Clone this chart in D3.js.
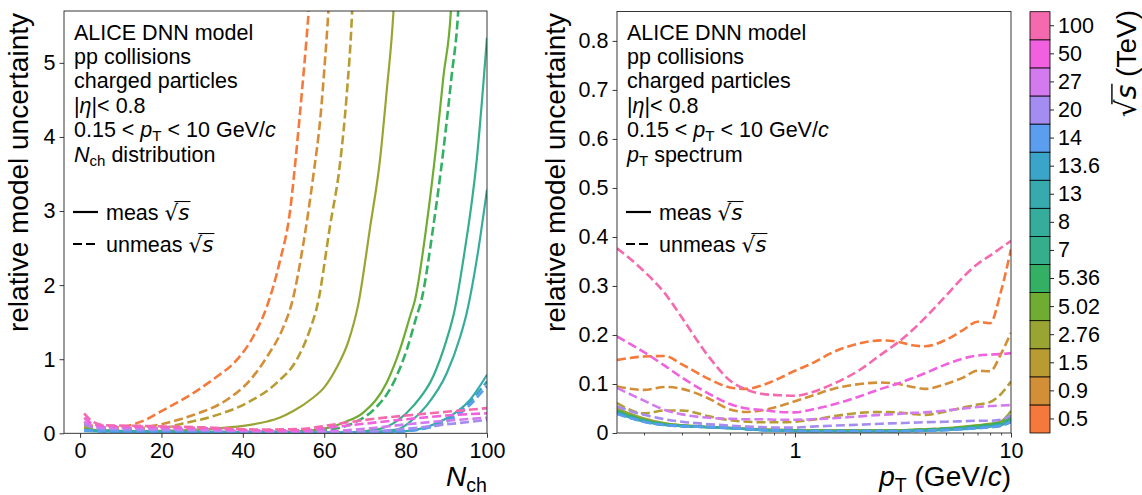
<!DOCTYPE html>
<html><head><meta charset="utf-8">
<script src="https://cdn.jsdelivr.net/npm/d3@7"></script>
<style>
body{margin:0;background:#fff;}
svg{display:block;font-family:"Liberation Sans",Arial,sans-serif;}
</style></head><body>
<svg id="chart" width="1142" height="495"></svg>
<script>
// ---------------- data ----------------
const energies = ["0.5","0.9","1.5","2.76","5.02","5.36","7","8","13","13.6","14","20","27","50","100"];
const measured = [false,false,false,true,true,false,true,true,true,false,false,false,false,false,false];
const palette = ["#f5793a","#d38f38","#b89c33","#9aa433","#6fac31","#33b064","#35ae8b","#36ac9c","#37aaad","#3aa5c8","#5b9ef0","#a58cf0","#d37aef","#f060df","#f56aae"];

const leftXTicks = [0,20,40,60,80,100];
const leftYTicks = [0,1,2,3,4,5];
const rightXTicks = [1,10];
const rightYTicks = [0,0.1,0.2,0.3,0.4,0.5,0.6,0.7,0.8];

// Nch distribution: [Nch, relative uncertainty]
const nch_e0p5 = [[1,0.13],[3,0.1],[6,0.08],[10,0.08],[13,0.12],[16,0.18],[20,0.3],[24,0.42],[28,0.55],[33,0.74],[38.5,0.99],[42.6,1.31],[45.9,1.71],[49,2.3],[51.6,3.0],[53.2,3.83],[54.5,4.6],[55.7,5.36],[57,6.3]];
const nch_e0p9 = [[1,0.11],[3,0.09],[6,0.07],[10,0.06],[15,0.07],[18,0.1],[22,0.15],[28,0.25],[36,0.45],[41.8,0.72],[45.9,1.03],[50,1.44],[52,1.75],[54.9,2.57],[57.3,3.47],[59,4.23],[60.2,5.04],[61,5.68],[61.6,6.3]];
const nch_e1p5 = [[1,0.09],[4,0.07],[10,0.06],[15,0.06],[20,0.07],[25,0.13],[32,0.22],[41,0.41],[48.3,0.68],[53.2,0.99],[56.5,1.4],[58.4,1.75],[61.4,2.79],[63.9,3.65],[65.5,4.55],[66.8,5.63],[67.3,6.3]];
const nch_e2p76 = [[1,0.06],[5,0.04],[15,0.03],[25,0.04],[32,0.06],[40,0.1],[46,0.16],[49,0.21],[52.4,0.3],[57,0.47],[60,0.62],[63,0.88],[66,1.25],[68.4,1.75],[71.3,2.79],[73.7,3.69],[75.3,4.59],[77,5.68],[77.6,6.3]];
const nch_e5p02 = [[1,0.05],[10,0.03],[30,0.02],[50,0.02],[57,0.04],[61.4,0.08],[65,0.15],[69.6,0.28],[75.3,0.68],[78.6,1.13],[81.1,1.58],[82.3,1.8],[85.1,2.79],[87.6,3.92],[89.3,4.82],[91.1,5.68],[91.7,6.3]];
const nch_e5p36 = [[1,0.05],[10,0.03],[30,0.02],[50,0.02],[58,0.03],[63.5,0.07],[68,0.16],[72,0.31],[77,0.68],[80.3,1.13],[82.7,1.58],[83.9,1.8],[86.8,2.79],[89.3,3.83],[91.3,4.82],[92.9,5.68],[93.5,6.3]];
const nch_e7 = [[1,0.04],[10,0.03],[30,0.02],[50,0.01],[65,0.01],[73.7,0.06],[78,0.17],[81.9,0.37],[86.8,0.77],[90,1.25],[92,1.65],[94.2,2.35],[97.5,3.7],[100,5.34]];
const nch_e8 = [[1,0.04],[10,0.03],[30,0.02],[50,0.01],[68,0.01],[77.8,0.05],[81,0.15],[85.1,0.37],[90.1,0.81],[93.4,1.3],[95,1.62],[97.5,2.35],[100,3.29]];
const nch_e13 = [[1,0.03],[10,0.02],[40,0.01],[70,0.01],[80,0.03],[85,0.08],[90,0.2],[95.8,0.45],[100,0.79]];
const nch_e13p6 = [[1,0.04],[10,0.02],[40,0.01],[70,0.01],[80,0.03],[85,0.07],[90,0.17],[95,0.38],[100,0.7]];
const nch_e14 = [[1,0.04],[10,0.02],[40,0.01],[70,0.01],[80,0.03],[85,0.07],[90,0.15],[95,0.34],[100,0.64]];
const nch_e20 = [[1,0.12],[3,0.08],[6,0.06],[15,0.05],[30,0.04],[45,0.02],[60,0.01],[70,0.02],[80,0.06],[90,0.12],[100,0.18]];
const nch_e27 = [[1,0.16],[3,0.1],[6,0.08],[15,0.07],[30,0.05],[45,0.03],[60,0.03],[70,0.06],[80,0.12],[90,0.17],[100,0.21]];
const nch_e50 = [[1,0.21],[3,0.13],[6,0.1],[15,0.09],[30,0.07],[45,0.04],[55,0.04],[60,0.07],[70,0.13],[82,0.2],[90,0.24],[100,0.27]];
const nch_e100 = [[1,0.27],[3,0.16],[6,0.11],[15,0.1],[30,0.08],[45,0.05],[55,0.06],[60,0.1],[70,0.18],[82,0.25],[90,0.29],[100,0.34]];

// pT spectrum: values on the pT grid
const ptGrid = [0.15,0.2,0.25,0.3,0.4,0.5,0.6,0.7,0.85,1,1.2,1.5,2,2.5,3,3.5,4,5,6,7,8,9,10];
const pt_e0p5 = [0.149,0.156,0.157,0.14,0.11,0.093,0.09,0.097,0.112,0.127,0.142,0.165,0.183,0.189,0.186,0.179,0.177,0.19,0.21,0.227,0.224,0.29,0.375];
const pt_e0p9 = [0.095,0.088,0.094,0.09,0.07,0.048,0.043,0.046,0.055,0.065,0.076,0.09,0.1,0.103,0.1,0.094,0.09,0.1,0.113,0.127,0.126,0.162,0.205];
const pt_e1p5 = [0.061,0.04,0.046,0.046,0.034,0.026,0.023,0.022,0.022,0.023,0.027,0.034,0.041,0.043,0.042,0.039,0.037,0.044,0.052,0.058,0.063,0.08,0.105];
const pt_e2p76 = [0.05,0.03,0.02,0.016,0.013,0.011,0.009,0.008,0.007,0.006,0.006,0.006,0.006,0.006,0.006,0.007,0.008,0.01,0.013,0.016,0.019,0.024,0.045];
const pt_e5p02 = [0.046,0.027,0.018,0.015,0.012,0.01,0.008,0.007,0.006,0.005,0.005,0.005,0.005,0.005,0.005,0.006,0.007,0.009,0.012,0.015,0.018,0.022,0.032];
const pt_e5p36 = [0.045,0.026,0.018,0.015,0.012,0.01,0.008,0.007,0.006,0.005,0.005,0.005,0.005,0.005,0.005,0.006,0.007,0.009,0.011,0.014,0.017,0.021,0.03];
const pt_e7 = [0.042,0.025,0.017,0.014,0.012,0.01,0.008,0.006,0.005,0.005,0.004,0.004,0.004,0.004,0.004,0.005,0.006,0.008,0.01,0.012,0.015,0.018,0.026];
const pt_e8 = [0.041,0.024,0.017,0.014,0.012,0.01,0.008,0.006,0.005,0.004,0.004,0.004,0.004,0.004,0.004,0.005,0.005,0.007,0.009,0.011,0.014,0.017,0.025];
const pt_e13 = [0.04,0.023,0.016,0.014,0.012,0.01,0.008,0.006,0.005,0.004,0.004,0.004,0.004,0.004,0.004,0.004,0.005,0.006,0.008,0.01,0.013,0.016,0.024];
const pt_e13p6 = [0.04,0.023,0.016,0.014,0.012,0.01,0.008,0.006,0.005,0.004,0.004,0.004,0.004,0.004,0.004,0.004,0.005,0.006,0.008,0.01,0.012,0.015,0.023];
const pt_e14 = [0.039,0.023,0.016,0.014,0.012,0.01,0.008,0.006,0.005,0.004,0.004,0.004,0.004,0.004,0.004,0.004,0.005,0.006,0.008,0.01,0.012,0.015,0.022];
const pt_e20 = [0.054,0.037,0.028,0.023,0.018,0.015,0.013,0.012,0.011,0.011,0.013,0.015,0.017,0.019,0.02,0.021,0.022,0.023,0.024,0.025,0.025,0.027,0.036];
const pt_e27 = [0.092,0.066,0.047,0.038,0.031,0.029,0.028,0.028,0.027,0.027,0.028,0.03,0.034,0.037,0.039,0.041,0.042,0.046,0.05,0.053,0.055,0.056,0.057];
const pt_e50 = [0.197,0.165,0.137,0.113,0.08,0.059,0.05,0.047,0.043,0.042,0.048,0.058,0.075,0.09,0.101,0.112,0.122,0.14,0.152,0.158,0.16,0.161,0.163];
const pt_e100 = [0.377,0.33,0.285,0.235,0.155,0.107,0.088,0.08,0.077,0.076,0.083,0.1,0.129,0.16,0.185,0.21,0.235,0.28,0.318,0.345,0.362,0.378,0.392];

const nchSeries = [nch_e0p5,nch_e0p9,nch_e1p5,nch_e2p76,nch_e5p02,nch_e5p36,nch_e7,nch_e8,nch_e13,nch_e13p6,nch_e14,nch_e20,nch_e27,nch_e50,nch_e100];
const ptSeries = [pt_e0p5,pt_e0p9,pt_e1p5,pt_e2p76,pt_e5p02,pt_e5p36,pt_e7,pt_e8,pt_e13,pt_e13p6,pt_e14,pt_e20,pt_e27,pt_e50,pt_e100];

// ---------------- drawing ----------------
const svg = d3.select("#chart");
const FS_TICK = 21.5, FS_TXT = 21.5, FS_LAB = 28;
const LW = 2.2, LWD = 2.6, DASH = "9,4";
const axisColor = "#222";

function rich(parent, x, y, parts, fs, anchor) {
  const t = parent.append("text").attr("x", x).attr("y", y)
    .attr("font-size", fs).attr("text-anchor", anchor || "start").attr("fill", "#000");
  let shift = 0, idx = 0;
  const overs = [];
  parts.forEach(p => {
    const ts = t.append("tspan").text(p.t);
    if (p.it) ts.attr("font-style", "italic");
    if (p.font) ts.attr("font-family", p.font);
    const want = p.sub ? fs * 0.2 : 0;
    if (p.sub) ts.attr("font-size", fs * 0.7);
    if (want !== shift) { ts.attr("dy", want - shift); shift = want; }
    if (p.over) overs.push([idx, idx + p.t.length - 1]);
    idx += p.t.length;
  });
  const node = t.node();
  overs.forEach(([a, b]) => {
    const x0 = node.getStartPositionOfChar(a - 1).x + node.getExtentOfChar(a - 1).width * 0.72;
    const x1 = node.getEndPositionOfChar(b).x;
    const yb = node.getStartPositionOfChar(a).y;
    parent.append("line").attr("x1", x0).attr("x2", x1 + 1)
      .attr("y1", yb - fs * 0.86).attr("y2", yb - fs * 0.86)
      .attr("stroke", "#000").attr("stroke-width", fs * 0.05);
  });
  return t;
}
const sqrtS = [{t: "√", font: "DejaVu Sans"}, {t: "s", it: true, over: true, font: "DejaVu Sans"}];

function drawPanel(opts) {
  const {x, y, series, lineGen, id, xTicks, yTicks, yFmt, minor, lastLine, xLabelParts} = opts;
  const [x0, x1] = x.range(), [y0, y1] = y.range();
  const g = svg.append("g");
  g.append("clipPath").attr("id", id).append("rect")
    .attr("x", x0).attr("y", y1).attr("width", x1 - x0).attr("height", y0 - y1);
  const lines = g.append("g").attr("clip-path", `url(#${id})`);
  series.forEach((s, i) => {
    lines.append("path").attr("d", lineGen(s)).attr("fill", "none")
      .attr("stroke", palette[i]).attr("stroke-width", measured[i] ? LW : LWD)
      .attr("stroke-dasharray", measured[i] ? null : DASH);
  });
  // axes
  const ax = g.append("g").attr("transform", `translate(0,${y0})`)
    .call(d3.axisBottom(x).tickValues(xTicks).tickFormat(d3.format("d")).tickSize(4.5).tickPadding(5));
  const ay = g.append("g").attr("transform", `translate(${x0},0)`)
    .call(d3.axisLeft(y).tickValues(yTicks).tickFormat(yFmt).tickSize(4.5).tickPadding(4));
  if (minor) {
    g.append("g").attr("transform", `translate(0,${y0})`)
      .call(d3.axisBottom(x).tickValues(minor).tickFormat("").tickSize(2.5))
      .call(a => a.select(".domain").remove())
      .selectAll("line").attr("stroke", axisColor).attr("stroke-width", 0.8);
  }
  [ax, ay].forEach(a => {
    a.select(".domain").remove();
    a.selectAll("line").attr("stroke", axisColor).attr("stroke-width", 0.9);
    a.selectAll("text").attr("font-size", FS_TICK).attr("fill", "#000")
      .attr("font-family", '"Liberation Sans",Arial,sans-serif');
  });
  g.append("rect").attr("x", x0).attr("y", y1).attr("width", x1 - x0).attr("height", y0 - y1)
    .attr("fill", "none").attr("stroke", axisColor).attr("stroke-width", 0.9);

  // annotation block
  const tx = x0 + 10;
  const lines6 = [
    [{t: "ALICE DNN model"}],
    [{t: "pp collisions"}],
    [{t: "charged particles"}],
    [{t: "|"}, {t: "η", it: true}, {t: "|< 0.8"}],
    [{t: "0.15 < "}, {t: "p", it: true}, {t: "T", sub: true}, {t: " < 10 GeV/"}, {t: "c", it: true}],
    lastLine
  ];
  lines6.forEach((p, i) => rich(g, tx, 39.5 + i * 24.4, p, FS_TXT));
  // legend
  g.append("line").attr("x1", tx - 1).attr("x2", tx + 24).attr("y1", 212).attr("y2", 212)
    .attr("stroke", "#000").attr("stroke-width", LW);
  g.append("line").attr("x1", tx - 1).attr("x2", tx + 24).attr("y1", 244).attr("y2", 244)
    .attr("stroke", "#000").attr("stroke-width", LW).attr("stroke-dasharray", DASH);
  rich(g, tx + 32, 220, [{t: "meas "}].concat(sqrtS), FS_TXT);
  rich(g, tx + 32, 252, [{t: "unmeas "}].concat(sqrtS), FS_TXT);

  // axis labels
  rich(g, x1, 486, xLabelParts, FS_LAB, "end");
  const yl = g.append("g").attr("transform", `translate(${opts.yLabX},13) rotate(-90)`);
  rich(yl, 0, 0, [{t: "relative model uncertainty"}], FS_LAB, "end");
}

// left panel
const xL = d3.scaleLinear().domain([-3.95, 100]).range([64, 487]);
const yL = d3.scaleLinear().domain([0, 5.7]).range([433.3, 11]);
drawPanel({
  id: "clipL", x: xL, y: yL, series: nchSeries,
  lineGen: d3.line().x(d => xL(d[0])).y(d => yL(d[1])).curve(d3.curveMonotoneX),
  xTicks: leftXTicks, yTicks: leftYTicks, yFmt: d3.format("d"),
  lastLine: [{t: "N", it: true}, {t: "ch", sub: true}, {t: " distribution"}],
  xLabelParts: [{t: "N", it: true}, {t: "ch", sub: true}],
  yLabX: 28
});

// right panel
const xR = d3.scaleLog().domain([0.15, 10]).range([617, 1011]);
const yR = d3.scaleLinear().domain([0, 0.86]).range([433, 11.5]);
drawPanel({
  id: "clipR", x: xR, y: yR, series: ptSeries,
  lineGen: d3.line().x((d, i) => xR(ptGrid[i])).y(d => yR(d)).curve(d3.curveMonotoneX),
  xTicks: rightXTicks, yTicks: rightYTicks, yFmt: d => d === 0 ? "0" : d3.format(".1f")(d),
  minor: [0.2,0.3,0.4,0.5,0.6,0.7,0.8,0.9,2,3,4,5,6,7,8,9],
  lastLine: [{t: "p", it: true}, {t: "T", sub: true}, {t: " spectrum"}],
  xLabelParts: [{t: "p", it: true}, {t: "T", sub: true}, {t: " (GeV/"}, {t: "c", it: true}, {t: ")"}],
  yLabX: 565
});

// colorbar
const cb = svg.append("g");
const cbY = d3.scaleBand().domain(energies).range([433, 11.7]).padding(0);
cb.selectAll("rect.bin").data(energies).join("rect").attr("class", "bin")
  .attr("x", 1030).attr("width", 20)
  .attr("y", d => cbY(d)).attr("height", cbY.bandwidth())
  .attr("fill", (d, i) => palette[i]).attr("stroke", "#000").attr("stroke-width", 0.8);
const cbAx = cb.append("g").attr("transform", "translate(1050,0)")
  .call(d3.axisRight(cbY).tickSize(4).tickPadding(4));
cbAx.select(".domain").remove();
cbAx.selectAll("line").attr("stroke", axisColor);
cbAx.selectAll("text").attr("font-size", FS_TICK).attr("fill", "#000")
  .attr("font-family", '"Liberation Sans",Arial,sans-serif');
const cbl = cb.append("g").attr("transform", "translate(1136,10) rotate(-90)");
rich(cbl, 0, 0, sqrtS.concat([{t: " (TeV)"}]), 28, "end");
</script>
</body></html>
